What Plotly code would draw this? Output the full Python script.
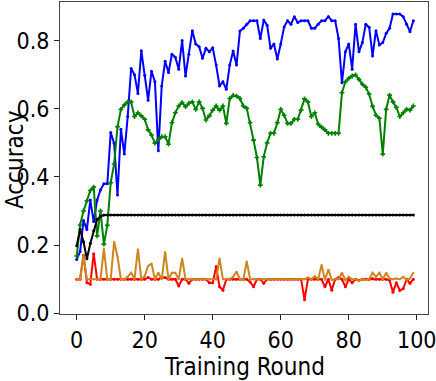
import plotly.graph_objects as go

rounds = list(range(100))

blue_acc = [
    0.158, 0.181, 0.272, 0.246, 0.332, 0.269, 0.332, 0.362, 0.380, 0.380,
    0.530, 0.499, 0.347, 0.540, 0.467, 0.577, 0.718, 0.700, 0.645, 0.770,
    0.698, 0.625, 0.710, 0.679, 0.477, 0.667, 0.739, 0.706, 0.760, 0.751,
    0.716, 0.800, 0.696, 0.760, 0.829, 0.790, 0.782, 0.748, 0.777, 0.767,
    0.779, 0.728, 0.667, 0.679, 0.657, 0.728, 0.769, 0.728, 0.828, 0.836,
    0.848, 0.858, 0.858, 0.858, 0.806, 0.860, 0.845, 0.777, 0.790, 0.746,
    0.790, 0.840, 0.858, 0.848, 0.870, 0.853, 0.858, 0.858, 0.858, 0.836,
    0.836, 0.848, 0.858, 0.858, 0.870, 0.858, 0.858, 0.806, 0.676, 0.767,
    0.790, 0.716, 0.848, 0.767, 0.794, 0.848, 0.839, 0.755, 0.829, 0.787,
    0.794, 0.821, 0.836, 0.878, 0.878, 0.878, 0.870, 0.848, 0.826, 0.858,
]

green_acc = [
    0.168, 0.259, 0.300, 0.330, 0.360, 0.370, 0.227, 0.300, 0.203, 0.258,
    0.383, 0.438, 0.547, 0.598, 0.611, 0.620, 0.620, 0.577, 0.588, 0.579,
    0.569, 0.538, 0.523, 0.499, 0.510, 0.518, 0.518, 0.496, 0.559, 0.588,
    0.608, 0.618, 0.606, 0.616, 0.620, 0.598, 0.620, 0.601, 0.567, 0.579,
    0.596, 0.608, 0.596, 0.608, 0.557, 0.630, 0.639, 0.637, 0.630, 0.608,
    0.601, 0.559, 0.508, 0.457, 0.376, 0.459, 0.500, 0.528, 0.528, 0.559,
    0.598, 0.581, 0.557, 0.557, 0.569, 0.569, 0.596, 0.629, 0.620, 0.577,
    0.588, 0.555, 0.546, 0.538, 0.528, 0.528, 0.528, 0.528, 0.647, 0.679,
    0.689, 0.696, 0.699, 0.686, 0.672, 0.663, 0.643, 0.607, 0.581, 0.572,
    0.467, 0.598, 0.640, 0.620, 0.604, 0.577, 0.588, 0.598, 0.596, 0.608,
]

black_acc = [0.198, 0.246, 0.210, 0.160, 0.205, 0.242, 0.275, 0.284, 0.288] + [0.288] * 91

orange_acc = [
    0.100, 0.100, 0.170, 0.100, 0.100, 0.100, 0.100, 0.100, 0.190, 0.100,
    0.100, 0.210, 0.166, 0.100, 0.100, 0.107, 0.119, 0.100, 0.188, 0.100,
    0.109, 0.139, 0.145, 0.100, 0.119, 0.100, 0.180, 0.100, 0.119, 0.119,
    0.100, 0.161, 0.100, 0.100, 0.100, 0.100, 0.100, 0.100, 0.100, 0.100,
    0.100, 0.100, 0.161, 0.100, 0.100, 0.100, 0.107, 0.122, 0.100, 0.100,
    0.152, 0.100, 0.100, 0.100, 0.100, 0.100, 0.100, 0.100, 0.100, 0.100,
    0.100, 0.100, 0.100, 0.100, 0.100, 0.100, 0.100, 0.100, 0.105, 0.100,
    0.109, 0.100, 0.142, 0.098, 0.128, 0.098, 0.100, 0.100, 0.119, 0.097,
    0.107, 0.100, 0.100, 0.095, 0.100, 0.098, 0.100, 0.119, 0.107, 0.119,
    0.100, 0.119, 0.102, 0.100, 0.102, 0.100, 0.107, 0.098, 0.102, 0.119,
]

red_acc = [
    0.100, 0.100, 0.170, 0.090, 0.085, 0.175, 0.100, 0.100, 0.100, 0.100,
    0.100, 0.100, 0.100, 0.100, 0.100, 0.100, 0.100, 0.100, 0.100, 0.100,
    0.100, 0.105, 0.100, 0.100, 0.100, 0.105, 0.105, 0.100, 0.100, 0.100,
    0.080, 0.100, 0.100, 0.088, 0.100, 0.100, 0.100, 0.100, 0.100, 0.090,
    0.090, 0.137, 0.078, 0.068, 0.100, 0.100, 0.100, 0.100, 0.100, 0.100,
    0.100, 0.092, 0.078, 0.100, 0.100, 0.088, 0.100, 0.100, 0.100, 0.100,
    0.100, 0.100, 0.100, 0.100, 0.100, 0.100, 0.100, 0.040, 0.100, 0.100,
    0.100, 0.100, 0.100, 0.078, 0.100, 0.068, 0.100, 0.105, 0.100, 0.078,
    0.100, 0.090, 0.100, 0.097, 0.100, 0.100, 0.100, 0.102, 0.100, 0.100,
    0.100, 0.100, 0.097, 0.062, 0.090, 0.067, 0.072, 0.100, 0.088, 0.100,
]

x_ticks = [0, 20, 40, 60, 80, 100]
y_ticks = [0.0, 0.2, 0.4, 0.6, 0.8]
y_tick_text = ["0.0", "0.2", "0.4", "0.6", "0.8"]

NARROW = '"DejaVu Sans Condensed", "DejaVu Sans", sans-serif'

series = [
    (blue_acc, "#0000ff", "circle", 3),
    (green_acc, "#008000", "cross", 4),
    (black_acc, "#000000", "circle", 3),
    (red_acc, "#ff0000", "circle", 3),
    (orange_acc, "#cd851f", "circle", 2),
]

fig = go.Figure()
for values, color, symbol, msize in series:
    fig.add_trace(go.Scatter(
        x=rounds, y=values, mode="lines+markers",
        line=dict(color=color, width=2),
        marker=dict(color=color, symbol=symbol, size=msize),
        showlegend=False,
    ))

axis_common = dict(
    showgrid=False, zeroline=False, showline=True, mirror=True,
    linecolor="#444444", linewidth=1, automargin=False,
    ticks="outside", ticklen=5, tickwidth=1, tickcolor="#222222",
    ticklabeloverflow="allow",
    tickfont=dict(family=NARROW, size=23, color="#000000"),
)

fig.update_layout(
    width=436, height=381, autosize=False,
    margin=dict(l=60, r=8, t=2, b=67),
    paper_bgcolor="white", plot_bgcolor="white",
    xaxis=dict(range=[-4.91, 103.3], tickvals=x_ticks, **axis_common),
    yaxis=dict(range=[-0.002, 0.913], tickvals=y_ticks, ticktext=y_tick_text, **axis_common),
    annotations=[
        dict(text="Training Round", xref="paper", yref="paper", x=0.5, y=-0.17,
             xanchor="center", yanchor="middle", showarrow=False,
             font=dict(family=NARROW, size=24, color="#000000")),
        dict(text="Accuracy", xref="paper", yref="paper", x=-0.122, y=0.4936,
             xanchor="center", yanchor="middle", textangle=-90, showarrow=False,
             font=dict(family=NARROW, size=24, color="#000000")),
    ],
)

# drop the page's default body margin so the figure sits at the window origin
fig.write_html("out.html", config={"displayModeBar": False},
               post_script="document.body.style.margin='0px';")
